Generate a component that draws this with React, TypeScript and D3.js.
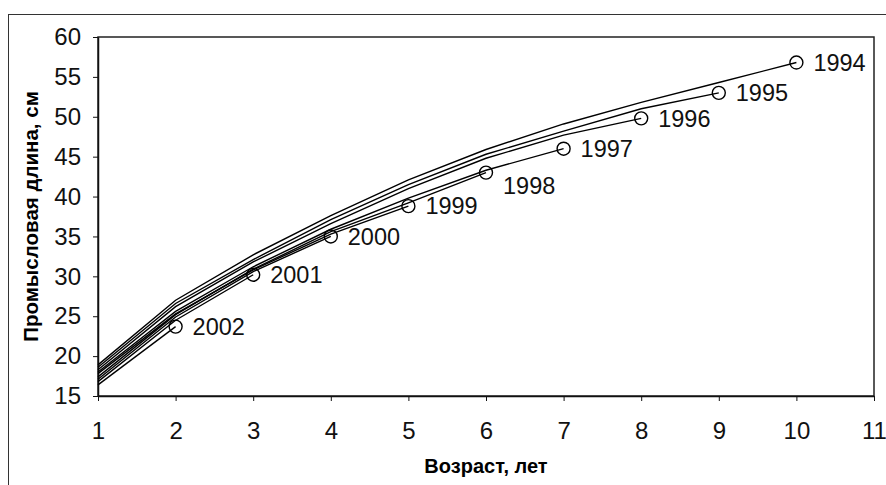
import React, { useEffect, useRef } from 'react';
import { select, scaleLinear, axisBottom, axisLeft, line } from 'd3';

// год вылова -> средняя длина по возрастам (начиная с 1 года)
const years = ['1994', '1995', '1996', '1997', '1998', '1999', '2000', '2001', '2002'];
const len1994 = [18.9, 27.0, 32.7, 37.6, 42.1, 45.9, 49.1, 51.8, 54.3, 56.8];
const len1995 = [18.6, 26.6, 32.1, 37.1, 41.5, 45.3, 48.2, 51.0, 53.0];
const len1996 = [18.3, 26.2, 31.8, 36.6, 41.0, 44.8, 47.7, 49.8];
const len1997 = [18.0, 25.6, 31.2, 35.9, 39.8, 43.3, 46.0];
const len1998 = [17.4, 25.2, 30.9, 35.6, 39.2, 43.0];
const len1999 = [17.8, 25.3, 30.8, 35.3, 38.8];
const len2000 = [17.1, 24.9, 30.6, 35.0];
const len2001 = [16.8, 24.5, 30.2];
const len2002 = [16.4, 23.7];
const allLengths = [len1994, len1995, len1996, len1997, len1998, len1999, len2000, len2001, len2002];

const xTicks = [1, 2, 3, 4, 5, 6, 7, 8, 9, 10, 11];
const yTicks = [15, 20, 25, 30, 35, 40, 45, 50, 55, 60];

const W = 886;
const H = 485;

function App() {
    const ref = useRef<SVGSVGElement>(null);

    useEffect(() => {
        const svg = select(ref.current);
        svg.selectAll('*').remove();

        const margin = { top: 37, right: 12, bottom: 89, left: 98 };
        const font = 'Arial, "Liberation Sans", sans-serif';

        const x = scaleLinear().domain([1, 11]).range([margin.left, W - margin.right]);
        const y = scaleLinear().domain([15, 60]).range([H - margin.bottom, margin.top]);

        // внешняя рамка (обрезана справа и снизу)
        svg.append('rect')
            .attr('x', 8.5).attr('y', 14.5)
            .attr('width', W).attr('height', H)
            .attr('fill', 'none').attr('stroke', '#333').attr('stroke-width', 1);

        // рамка области построения
        svg.append('rect')
            .attr('x', x(1)).attr('y', y(60))
            .attr('width', x(11) - x(1)).attr('height', y(15) - y(60))
            .attr('fill', 'none').attr('stroke', '#222').attr('stroke-width', 1.5);

        const gx = svg.append('g')
            .attr('transform', `translate(0,${y(15)})`)
            .call(axisBottom(x).tickValues(xTicks).tickFormat(d => String(d)).tickSize(5).tickPadding(21).tickSizeOuter(0));
        const gy = svg.append('g')
            .attr('transform', `translate(${x(1)},0)`)
            .call(axisLeft(y).tickValues(yTicks).tickFormat(d => String(d)).tickSize(5).tickPadding(12).tickSizeOuter(0));

        [gx, gy].forEach(g => {
            g.select('.domain').attr('stroke', '#111').attr('stroke-width', 1.5);
            g.selectAll('.tick line').attr('stroke', '#111');
            g.selectAll('.tick text')
                .attr('font-family', font).attr('font-size', 24).attr('fill', '#111');
        });

        const path = line<number>()
            .x((d, i) => x(i + 1))
            .y(d => y(d));

        allLengths.forEach((vals, k) => {
            svg.append('path')
                .datum(vals)
                .attr('d', path)
                .attr('fill', 'none')
                .attr('stroke', '#000')
                .attr('stroke-width', 1.4);

            const last = vals.length;
            const cx = x(last);
            const cy = y(vals[last - 1]);
            svg.append('circle')
                .attr('cx', cx).attr('cy', cy).attr('r', 6.5)
                .attr('fill', 'none').attr('stroke', '#000').attr('stroke-width', 1.4);

            svg.append('text')
                .attr('x', cx + 17)
                .attr('y', cy + (years[k] === '1998' ? 13 : 0))
                .attr('dy', '0.35em')
                .attr('font-family', font).attr('font-size', 23.5).attr('fill', '#111')
                .text(years[k]);
        });

        // подписи осей
        svg.append('text')
            .attr('x', (x(1) + x(11)) / 2).attr('y', 466)
            .attr('dy', '0.35em')
            .attr('text-anchor', 'middle')
            .attr('font-family', font).attr('font-size', 20).attr('font-weight', 'bold')
            .text('Возраст, лет');

        svg.append('text')
            .attr('transform', `translate(31,${(y(15) + y(60)) / 2}) rotate(-90)`)
            .attr('dy', '0.35em')
            .attr('text-anchor', 'middle')
            .attr('font-family', font).attr('font-size', 20.5).attr('font-weight', 'bold')
            .text('Промысловая длина, см');
    }, []);

    return (
        <svg ref={ref} width={W} height={H}
            style={{ position: 'absolute', left: 0, top: 0, background: '#fff' }} />
    );
}

export default App;
